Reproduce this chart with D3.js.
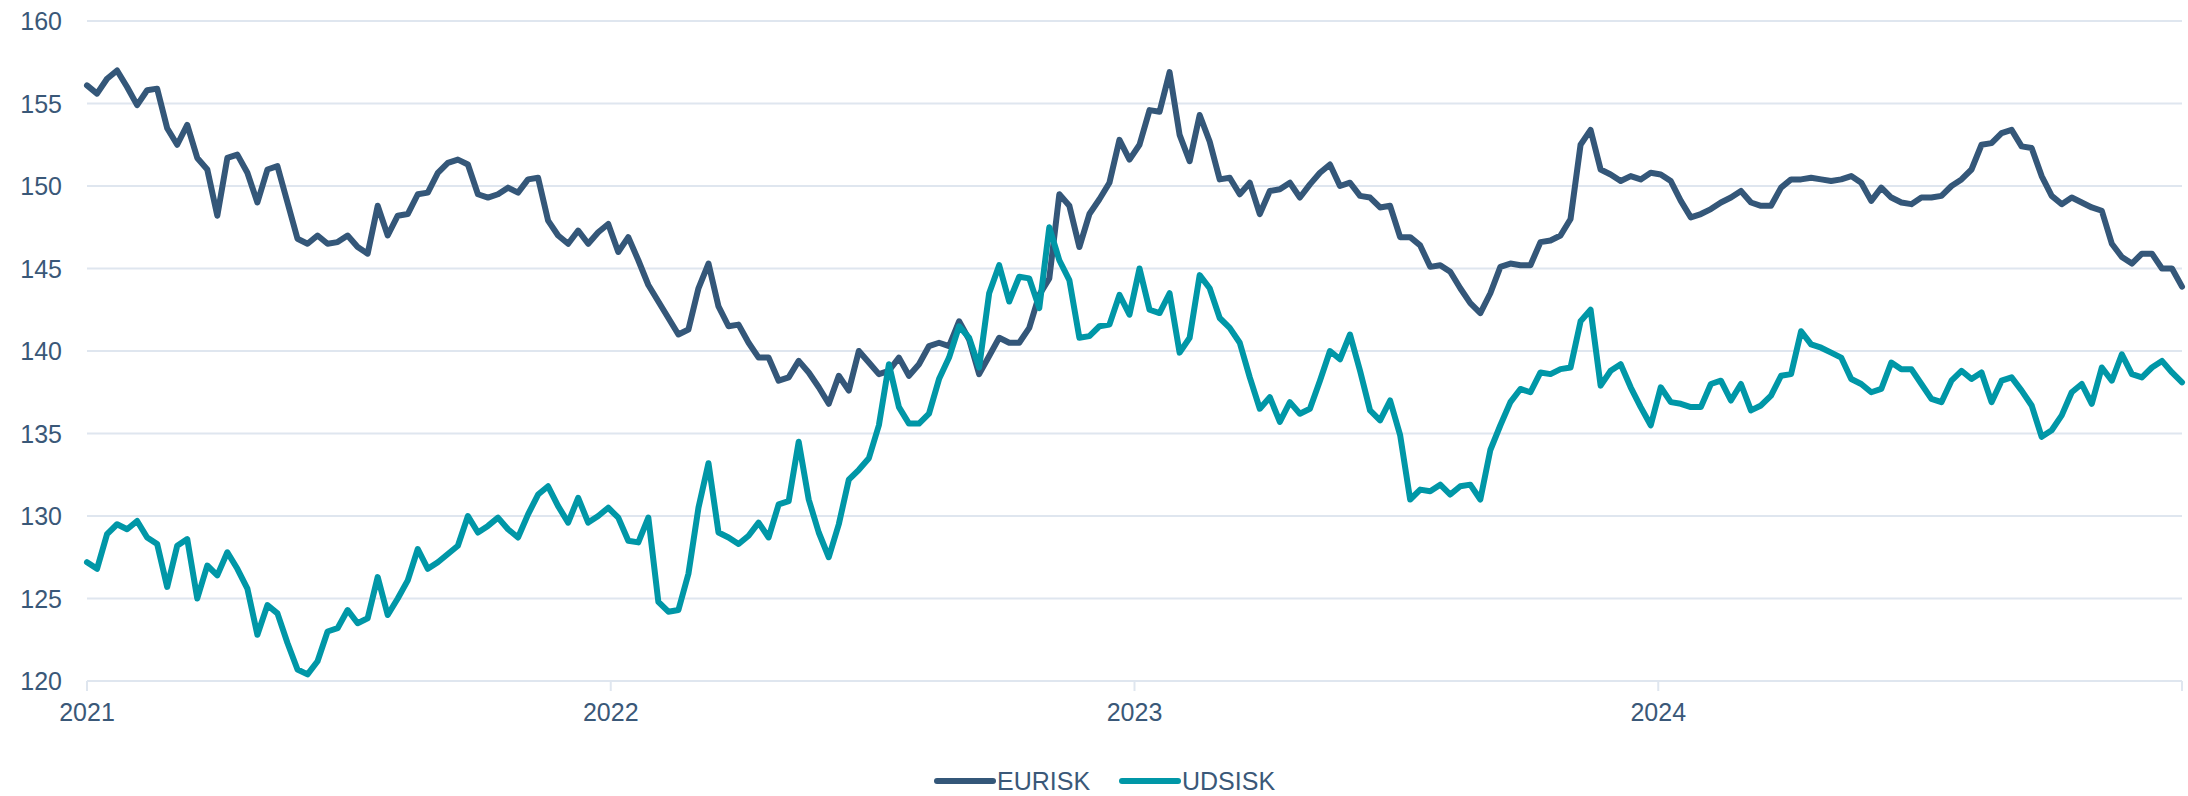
<!DOCTYPE html>
<html>
<head>
<meta charset="utf-8">
<title>EURISK / UDSISK</title>
<script src="https://cdn.jsdelivr.net/npm/d3@7"></script>
<style>
  body { margin: 0; background: #fff; }
  svg { display: block; font-family: "Liberation Sans", Arial, sans-serif; }
  .grid line { stroke: #dfe6ef; stroke-width: 2; }
  .axis text { fill: #3a5878; font-size: 25px; }
</style>
</head>
<body>
<div id="chart"></div>
<script>
// roughly weekly readings, 1 Jan 2021 .. 31 Dec 2024
var startDate = new Date(2021, 0, 1);
var endDate = new Date(2024, 11, 31);

var eurisk = [
  156.1,155.6,156.5,157.0,156.0,154.9,155.8,155.9,153.5,152.5,
  153.7,151.7,151.0,148.2,151.7,151.9,150.8,149.0,151.0,151.2,
  149.0,146.8,146.5,147.0,146.5,146.6,147.0,146.3,145.9,148.8,
  147.0,148.2,148.3,149.5,149.6,150.8,151.4,151.6,151.3,149.5,
  149.3,149.5,149.9,149.6,150.4,150.5,147.9,147.0,146.5,147.3,
  146.5,147.2,147.7,146.0,146.9,145.5,144.0,143.0,142.0,141.0,
  141.3,143.8,145.3,142.7,141.5,141.6,140.5,139.6,139.6,138.2,
  138.4,139.4,138.7,137.8,136.8,138.5,137.6,140.0,139.3,138.6,
  138.8,139.6,138.5,139.2,140.3,140.5,140.3,141.8,140.7,138.6,
  139.7,140.8,140.5,140.5,141.4,143.4,144.4,149.5,148.8,146.3,
  148.3,149.2,150.2,152.8,151.6,152.5,154.6,154.5,156.9,153.1,
  151.5,154.3,152.7,150.4,150.5,149.5,150.2,148.3,149.7,149.8,
  150.2,149.3,150.1,150.8,151.3,150.0,150.2,149.4,149.3,148.7,
  148.8,146.9,146.9,146.4,145.1,145.2,144.8,143.8,142.9,142.3,
  143.5,145.1,145.3,145.2,145.2,146.6,146.7,147.0,148.0,152.5,
  153.4,151.0,150.7,150.3,150.6,150.4,150.8,150.7,150.3,149.1,
  148.1,148.3,148.6,149.0,149.3,149.7,149.0,148.8,148.8,149.9,
  150.4,150.4,150.5,150.4,150.3,150.4,150.6,150.2,149.1,149.9,
  149.3,149.0,148.9,149.3,149.3,149.4,150.0,150.4,151.0,152.5,
  152.6,153.2,153.4,152.4,152.3,150.6,149.4,148.9,149.3,149.0,
  148.7,148.5,146.5,145.7,145.3,145.9,145.9,145.0,145.0,143.9
];

var udsisk = [
  127.2,126.8,128.9,129.5,129.2,129.7,128.7,128.3,125.7,128.2,
  128.6,125.0,127.0,126.4,127.8,126.8,125.6,122.8,124.6,124.1,
  122.3,120.7,120.4,121.2,123.0,123.2,124.3,123.5,123.8,126.3,
  124.0,125.0,126.1,128.0,126.8,127.2,127.7,128.2,130.0,129.0,
  129.4,129.9,129.2,128.7,130.1,131.3,131.8,130.6,129.6,131.1,
  129.6,130.0,130.5,129.9,128.5,128.4,129.9,124.8,124.2,124.3,
  126.5,130.5,133.2,129.0,128.7,128.3,128.8,129.6,128.7,130.7,
  130.9,134.5,131.0,129.0,127.5,129.5,132.2,132.8,133.5,135.5,
  139.2,136.6,135.6,135.6,136.2,138.3,139.6,141.5,140.8,139.0,
  143.5,145.2,143.0,144.5,144.4,142.6,147.5,145.5,144.3,140.8,
  140.9,141.5,141.6,143.4,142.2,145.0,142.5,142.3,143.5,139.9,
  140.8,144.6,143.8,142.0,141.4,140.5,138.4,136.5,137.2,135.7,
  136.9,136.2,136.5,138.2,140.0,139.5,141.0,138.8,136.4,135.8,
  137.0,134.9,131.0,131.6,131.5,131.9,131.3,131.8,131.9,131.0,
  134.0,135.5,136.9,137.7,137.5,138.7,138.6,138.9,139.0,141.8,
  142.5,137.9,138.8,139.2,137.8,136.6,135.5,137.8,136.9,136.8,
  136.6,136.6,138.0,138.2,137.0,138.0,136.4,136.7,137.3,138.5,
  138.6,141.2,140.4,140.2,139.9,139.6,138.3,138.0,137.5,137.7,
  139.3,138.9,138.9,138.0,137.1,136.9,138.2,138.8,138.3,138.7,
  136.9,138.2,138.4,137.6,136.7,134.8,135.2,136.1,137.5,138.0,
  136.8,139.0,138.2,139.8,138.6,138.4,139.0,139.4,138.7,138.1
];

var yTicks = [120, 125, 130, 135, 140, 145, 150, 155, 160];
var xTicks = [2021, 2022, 2023, 2024, 2025];
var seriesNames = ["EURISK", "UDSISK"];
var seriesColors = ["#345779", "#0097a7"];

var width = 2188, height = 796;
var margin = {top: 21, right: 6, bottom: 115, left: 87};

// spread the readings evenly over the date range
var step = (endDate - startDate) / (eurisk.length - 1);
var dates = eurisk.map(function(d, i) { return new Date(+startDate + i * step); });

var svg = d3.select("#chart").append("svg")
    .attr("width", width)
    .attr("height", height);

var x = d3.scaleTime()
    .domain([startDate, endDate])
    .range([margin.left, width - margin.right]);

var y = d3.scaleLinear()
    .domain([120, 160])
    .range([height - margin.bottom, margin.top]);

// horizontal grid lines
svg.append("g").attr("class", "grid")
  .selectAll("line").data(yTicks).enter().append("line")
    .attr("x1", x.range()[0]).attr("x2", x.range()[1])
    .attr("y1", function(d) { return y(d); })
    .attr("y2", function(d) { return y(d); });

// y labels
svg.append("g").attr("class", "axis")
  .selectAll("text").data(yTicks).enter().append("text")
    .attr("x", 62)
    .attr("y", function(d) { return y(d) + 9; })
    .attr("text-anchor", "end")
    .text(function(d) { return d; });

// x ticks and labels
var xg = svg.append("g").attr("class", "axis");
xg.selectAll("line").data(xTicks).enter().append("line")
    .attr("x1", function(d) { return Math.min(x(new Date(d, 0, 1)), width - margin.right); })
    .attr("x2", function(d) { return Math.min(x(new Date(d, 0, 1)), width - margin.right); })
    .attr("y1", y(120)).attr("y2", y(120) + 10)
    .attr("stroke", "#dfe6ef").attr("stroke-width", 2);
xg.selectAll("text").data(xTicks.slice(0, 4)).enter().append("text")
    .attr("x", function(d) { return x(new Date(d, 0, 1)); })
    .attr("y", 721)
    .attr("text-anchor", "middle")
    .text(function(d) { return d; });

var line = d3.line()
    .x(function(d, i) { return x(dates[i]); })
    .y(function(d) { return y(d); });

[eurisk, udsisk].forEach(function(vals, k) {
  svg.append("path")
    .datum(vals)
    .attr("d", line)
    .attr("fill", "none")
    .attr("stroke", seriesColors[k])
    .attr("stroke-width", 6)
    .attr("stroke-linejoin", "round")
    .attr("stroke-linecap", "round");
});

// legend
var legend = svg.append("g").attr("class", "axis");
var legendX = [937, 1122];
seriesNames.forEach(function(name, k) {
  legend.append("line")
    .attr("x1", legendX[k]).attr("x2", legendX[k] + 56)
    .attr("y1", 781).attr("y2", 781)
    .attr("stroke", seriesColors[k])
    .attr("stroke-width", 6)
    .attr("stroke-linecap", "round");
  legend.append("text")
    .attr("x", legendX[k] + 60)
    .attr("y", 790)
    .text(name);
});
</script>
</body>
</html>
